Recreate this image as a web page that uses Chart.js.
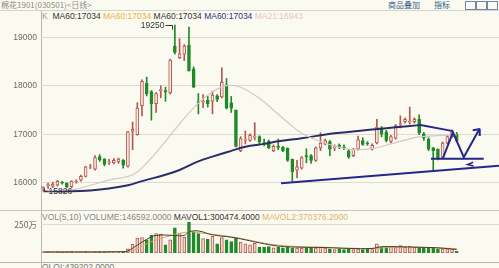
<!DOCTYPE html>
<html>
<head>
<meta charset="utf-8">
<script src="https://cdn.jsdelivr.net/npm/chart.js@4"></script>
<style>
  body { margin: 0; width: 499px; height: 268px; background: #fbfaf0; position: relative; overflow: hidden; font-family: "Liberation Sans", sans-serif; }
  .abs { position: absolute; white-space: nowrap; }
  .hline { position: absolute; left: 0; width: 499px; height: 1px; }
  #hdr { left: 1px; top: -1px; font: 8px "Noto Sans CJK SC"; color: #8a8a8a; }
  .lnk { top: -1px; font: 8px "Noto Sans CJK SC"; color: #2f5c8a; }
  .ico { position: absolute; top: 1px; width: 9px; height: 7px; border: 1px solid #6f8aa6; }
  .leg { font-size: 8.5px; line-height: 10px; }
  canvas { position: absolute; left: 0; }
</style>
</head>
<body>
<div class="abs" id="hdr">棉花1901(030501)&lt;日线&gt;</div>
<div class="abs lnk" style="left:388px">商品叠加</div>
<div class="abs lnk" style="left:434px">指标</div>
<div class="ico" style="left:465px"></div>
<div class="ico" style="left:476px"></div>
<div class="ico" style="left:487px"></div>
<div class="hline" style="top:10px;background:#d4d4cc"></div>
<div class="hline" style="top:210px;background:#c4c4bc"></div>
<div class="hline" style="top:262px;background:#b4b4ac"></div>
<div style="position:absolute;left:41px;top:11px;width:1px;height:257px;background:#b8b8b0"></div>

<div class="abs leg" style="left:42px;top:11px">
  <span style="color:#999">K</span>&nbsp;
  <span style="color:#333">MA60:17034</span>
  <span style="color:#e8b23a">MA60:17034</span>
  <span style="color:#333">MA60:17034</span>
  <span style="color:#30307a">MA60:17034</span>
  <span style="color:#e6c3d2">MA21:16943</span>
</div>
<div class="abs leg" style="left:42px;top:212px">
  <span style="color:#888">VOL(5,10) VOLUME:146592.0000</span>
  <span style="color:#333">MAVOL1:300474.4000</span>
  <span style="color:#ddb466">MAVOL2:370376.2000</span>
</div>
<div class="abs leg" style="left:42px;top:262px;color:#777">OI OI:439202.0000</div>

<canvas id="priceChart" width="499" height="199" style="top:11px"></canvas>
<canvas id="volChart" width="499" height="52" style="top:210px"></canvas>

<script>
// daily candles, index 0..88
const open = [
  15880, 15940, 15930, 15950, 16010, 15990, 15920, 16020, 16050, 16130,
  16320, 16280, 16540, 16490, 16420, 16410, 16430, 16460, 16340, 17060,
  16990, 17590, 18050, 17880, 17630, 17900, 17900, 17850, 18820, 18580,
  18650, 18840, 18350, 17670, 17670, 17700, 17680, 17790, 17770, 18020,
  17650, 17500, 16660, 16880, 16870, 16940, 16950, 16840, 16860, 16660,
  16750, 16730, 16710, 16480, 16260, 16300, 16560, 16560, 16460, 16720,
  16800, 16850, 16720, 16770, 16740, 16660, 16560, 16690, 16870, 16820,
  16690, 16820, 17130, 17050, 16850, 16920, 17200, 17260, 17250, 17260,
  17310, 17010, 16900, 16720, 16690, 16520, 16820, 16950, 17000
];
const high = [
  15920, 15990, 16010, 16050, 16030, 16000, 16040, 16060, 16160, 16340,
  16380, 16560, 16580, 16500, 16480, 16500, 16510, 16480, 17060, 17250,
  17650, 18120, 18180, 17900, 17860, 18000, 17970, 18550, 19250, 18970,
  18850, 19210, 18390, 17840, 17820, 17780, 17890, 17820, 18370, 18150,
  17780, 17500, 16950, 17070, 17010, 17240, 16970, 16900, 16880, 16780,
  16900, 16750, 16720, 16490, 16460, 16540, 16700, 16580, 16740, 17030,
  16900, 16870, 16780, 16800, 16780, 16690, 16710, 16960, 16930, 16850,
  16800, 17310, 17160, 17080, 16980, 17200, 17380, 17340, 17560, 17340,
  17400, 17040, 16930, 16730, 16700, 16840, 16980, 17090, 17040
];
const low = [
  15826, 15880, 15900, 15930, 15970, 15900, 15900, 15990, 16030, 16120,
  16290, 16260, 16440, 16350, 16370, 16390, 16400, 16300, 16320, 16680,
  16980, 17380, 17790, 17290, 17450, 17750, 17680, 17830, 18650, 18560,
  18520, 18300, 17960, 17420, 17550, 17560, 17420, 17670, 17750, 17520,
  17450, 16740, 16640, 16800, 16850, 16880, 16780, 16760, 16700, 16640,
  16680, 16640, 16440, 16030, 16100, 16280, 16410, 16400, 16440, 16660,
  16780, 16560, 16660, 16700, 16680, 16500, 16540, 16670, 16770, 16770,
  16670, 16800, 16950, 16840, 16820, 16900, 17130, 17230, 17210, 17230,
  16990, 16870, 16660, 16260, 16470, 16500, 16800, 16930, 16840
];
const close = [
  15900, 15960, 15970, 16030, 15990, 15920, 16030, 16030, 16130, 16330,
  16330, 16520, 16470, 16380, 16430, 16460, 16490, 16360, 17050, 17100,
  17540, 18090, 17830, 17630, 17840, 17920, 17880, 18530, 18690, 18660,
  18820, 18310, 17970, 17650, 17690, 17630, 17810, 17720, 18070, 17540,
  17540, 16750, 16910, 16900, 16980, 16960, 16840, 16830, 16720, 16750,
  16730, 16660, 16460, 16230, 16330, 16520, 16530, 16460, 16720, 16820,
  16870, 16690, 16740, 16750, 16720, 16530, 16690, 16890, 16790, 16800,
  16770, 17150, 17000, 16870, 16950, 17180, 17220, 17310, 17270, 17310,
  17020, 16920, 16690, 16660, 16490, 16820, 16950, 17050, 16860
];
const volume = [
  90000, 110000, 80000, 120000, 100000, 90000, 130000, 80000, 110000, 150000,
  100000, 140000, 120000, 90000, 110000, 100000, 120000, 130000, 360000, 750000,
  1300000, 1350000, 1150000, 1550000, 1700000, 1650000, 700000, 1150000, 2200000, 1750000,
  1400000, 2700000, 1850000, 1700000, 1250000, 1200000, 1450000, 800000, 1350000, 1150000,
  1000000, 1300000, 950000, 800000, 700000, 850000, 500000, 500000, 550000, 450000,
  500000, 450000, 500000, 420000, 420000, 420000, 420000, 420000, 450000, 500000,
  420000, 350000, 300000, 350000, 300000, 350000, 300000, 350000, 300000, 350000,
  300000, 800000, 500000, 500000, 500000, 550000, 650000, 500000, 600000, 500000,
  500000, 450000, 500000, 450000, 350000, 360000, 360000, 350000, 146592
];

// moving average curves: [index, value]
const ma21 = [
  [0, 15829], [5, 15856], [7, 15869], [10, 15947], [14, 16053], [19, 16164], [22, 16407],
  [26, 16854], [29, 17215], [33, 17642], [36, 17871], [39, 18003], [42, 17970], [46, 17740],
  [50, 17412], [52, 17248], [55, 17018], [58, 16886], [62, 16755], [66, 16683], [70, 16703],
  [74, 16801], [78, 16906], [80, 16946], [84, 16972], [88, 16985]
];
const ma60 = [
  [0, 15823], [6, 15823], [10, 15842], [14, 15882], [18, 15947], [21, 16033], [26, 16164],
  [29, 16263], [33, 16440], [36, 16538], [40, 16657], [43, 16742], [47, 16801], [50, 16854],
  [55, 16919], [62, 17018], [70, 17097], [75, 17142], [80, 17188]
];
const mavol1 = [
  [0, 78000], [17, 104000], [18, 182000], [20, 677000], [22, 1198000], [24, 1536000], [28, 1536000],
  [30, 1536000], [31, 1849000], [33, 1927000], [36, 1589000], [40, 1380000], [43, 1146000],
  [46, 885000], [50, 599000], [55, 495000], [60, 469000], [65, 391000], [70, 391000], [72, 547000],
  [75, 547000], [80, 495000], [84, 443000], [88, 300474]
];
const mavol2 = [
  [0, 78000], [18, 130000], [20, 339000], [22, 807000], [25, 1276000], [28, 1589000], [31, 1849000],
  [34, 1719000], [38, 1536000], [42, 1276000], [46, 938000], [50, 677000], [55, 547000],
  [60, 495000], [65, 417000], [70, 391000], [75, 495000], [80, 495000], [88, 370376]
];

// hand-drawn pen lines on the chart: [index, price]
const upperLine = [[80, 17195], [87.2, 17064]];
const supportLine = [[50.6, 15987], [97, 16348]];
const neckLine = [[82.5, 16492], [93.75, 16492]];
const zigzag = [[85, 16492], [87.2, 17037], [89.5, 16525], [92.8, 17103]];
const arrowHead = [[91.4, 17083], [92.8, 17103], [92.9, 16965]];
const smallMark = [[91.5, 16423], [90.3, 16374], [91.6, 16345]];

const priceTicks = [16000, 17000, 18000, 19000];
const volTicks = [2500000];

const UP = '#b4574f', UP_FILL = '#f5ebe0', DOWN = '#22892a', PEN = '#26268c';
const idx = open.map((_, i) => i);
const isUp = i => close[i] >= open[i];
const pts = arr => arr.map(p => ({ x: p[0], y: p[1] }));

function xScale() {
  return { type: 'linear', min: -0.5, max: 97, offset: false, display: false };
}

function penLine(arr) {
  return { type: 'line', data: pts(arr), borderColor: PEN, borderWidth: 2, pointRadius: 0, tension: 0, order: 0 };
}

// annotations for highest / lowest prices
const hiLoLabels = {
  id: 'hiLoLabels',
  afterDatasetsDraw(chart) {
    const { ctx, scales: { x, y } } = chart;
    const hi = high.indexOf(Math.max(...high));
    const lo = low.indexOf(Math.min(...low));
    ctx.save();
    ctx.font = '8.5px "Liberation Sans"';
    ctx.fillStyle = '#333';
    ctx.strokeStyle = '#333';
    ctx.lineWidth = 1;
    ctx.textBaseline = 'middle';

    let px = Math.round(x.getPixelForValue(hi)) - 2.5, py = Math.round(y.getPixelForValue(high[hi])) + 0.5;
    ctx.beginPath(); ctx.moveTo(px - 7, py); ctx.lineTo(px, py); ctx.lineTo(px, py + 4); ctx.stroke();
    ctx.textAlign = 'right';
    ctx.fillText(String(high[hi]), px - 8, py);

    px = Math.round(x.getPixelForValue(lo)) + 1.5; py = Math.round(y.getPixelForValue(low[lo])) + 0.5;
    ctx.beginPath(); ctx.moveTo(px, py - 3); ctx.lineTo(px, py); ctx.lineTo(px + 3, py); ctx.stroke();
    ctx.textAlign = 'left';
    ctx.fillText(String(low[lo]), px + 4, py);
    ctx.restore();
  }
};

new Chart(document.getElementById('priceChart'), {
  type: 'bar',
  data: {
    datasets: [
      {
        label: 'wick',
        data: idx.map(i => ({ x: i, y: [low[i], high[i]] })),
        backgroundColor: idx.map(i => isUp(i) ? UP : DOWN),
        barThickness: 1, grouped: false, order: 3
      },
      {
        label: 'body',
        data: idx.map(i => ({ x: i, y: [open[i], close[i]] })),
        backgroundColor: idx.map(i => isUp(i) ? UP_FILL : DOWN),
        borderColor: idx.map(i => isUp(i) ? UP : DOWN),
        borderWidth: 1, borderSkipped: false,
        barThickness: 3, grouped: false, order: 2
      },
      { type: 'line', label: 'MA21', data: pts(ma21), borderColor: '#d8c5c8', borderWidth: 1.2, pointRadius: 0, tension: 0.4, order: 1 },
      { type: 'line', label: 'MA60', data: pts(ma60), borderColor: '#2b2c6a', borderWidth: 2, pointRadius: 0, tension: 0.4, order: 1 },
      penLine(upperLine),
      penLine(supportLine),
      penLine(neckLine),
      penLine(zigzag),
      penLine(arrowHead),
      { ...penLine(smallMark), borderWidth: 1.5 }
    ]
  },
  options: {
    responsive: false,
    animation: false,
    layout: { padding: { top: 11, bottom: 1, left: 0, right: 0 }, autoPadding: false },
    plugins: { legend: { display: false }, tooltip: { enabled: false } },
    scales: {
      x: xScale(),
      y: {
        min: 15625, max: 19315,
        afterBuildTicks: s => { s.ticks = priceTicks.map(v => ({ value: v })); },
        afterFit: s => { s.width = 41; },
        border: { display: false },
        grid: { color: '#dcdcd2', drawTicks: false },
        ticks: { padding: 4, color: '#6a6a6a', font: { family: 'Liberation Sans', size: 8.5 }, callback: v => String(v) }
      }
    }
  },
  plugins: [hiLoLabels]
});

new Chart(document.getElementById('volChart'), {
  type: 'bar',
  data: {
    datasets: [
      {
        label: 'VOL',
        data: idx.map(i => ({ x: i, y: volume[i] })),
        backgroundColor: idx.map(i => isUp(i) ? '#efdcd0' : DOWN),
        borderColor: idx.map(i => isUp(i) ? UP : DOWN),
        borderWidth: 1, borderSkipped: false,
        barThickness: 3, grouped: false, order: 2
      },
      { type: 'line', label: 'MAVOL1', data: pts(mavol1), borderColor: '#4a3a2a', borderWidth: 1, pointRadius: 0, tension: 0.4, order: 1 },
      { type: 'line', label: 'MAVOL2', data: pts(mavol2), borderColor: '#d2a868', borderWidth: 1, pointRadius: 0, tension: 0.4, order: 1 }
    ]
  },
  options: {
    responsive: false,
    animation: false,
    layout: { padding: { top: 9, bottom: 5, left: 0, right: 0 }, autoPadding: false },
    plugins: { legend: { display: false }, tooltip: { enabled: false } },
    scales: {
      x: xScale(),
      y: {
        min: 0, max: 2969000,
        afterBuildTicks: s => { s.ticks = volTicks.map(v => ({ value: v })); },
        afterFit: s => { s.width = 41; },
        border: { display: false },
        grid: { color: '#dcdcd2', drawTicks: false },
        ticks: { padding: 4, color: '#6a6a6a', font: { family: 'Noto Sans CJK SC', size: 8.5 }, callback: v => (v / 10000) + '万' }
      }
    }
  }
});
</script>
</body>
</html>
